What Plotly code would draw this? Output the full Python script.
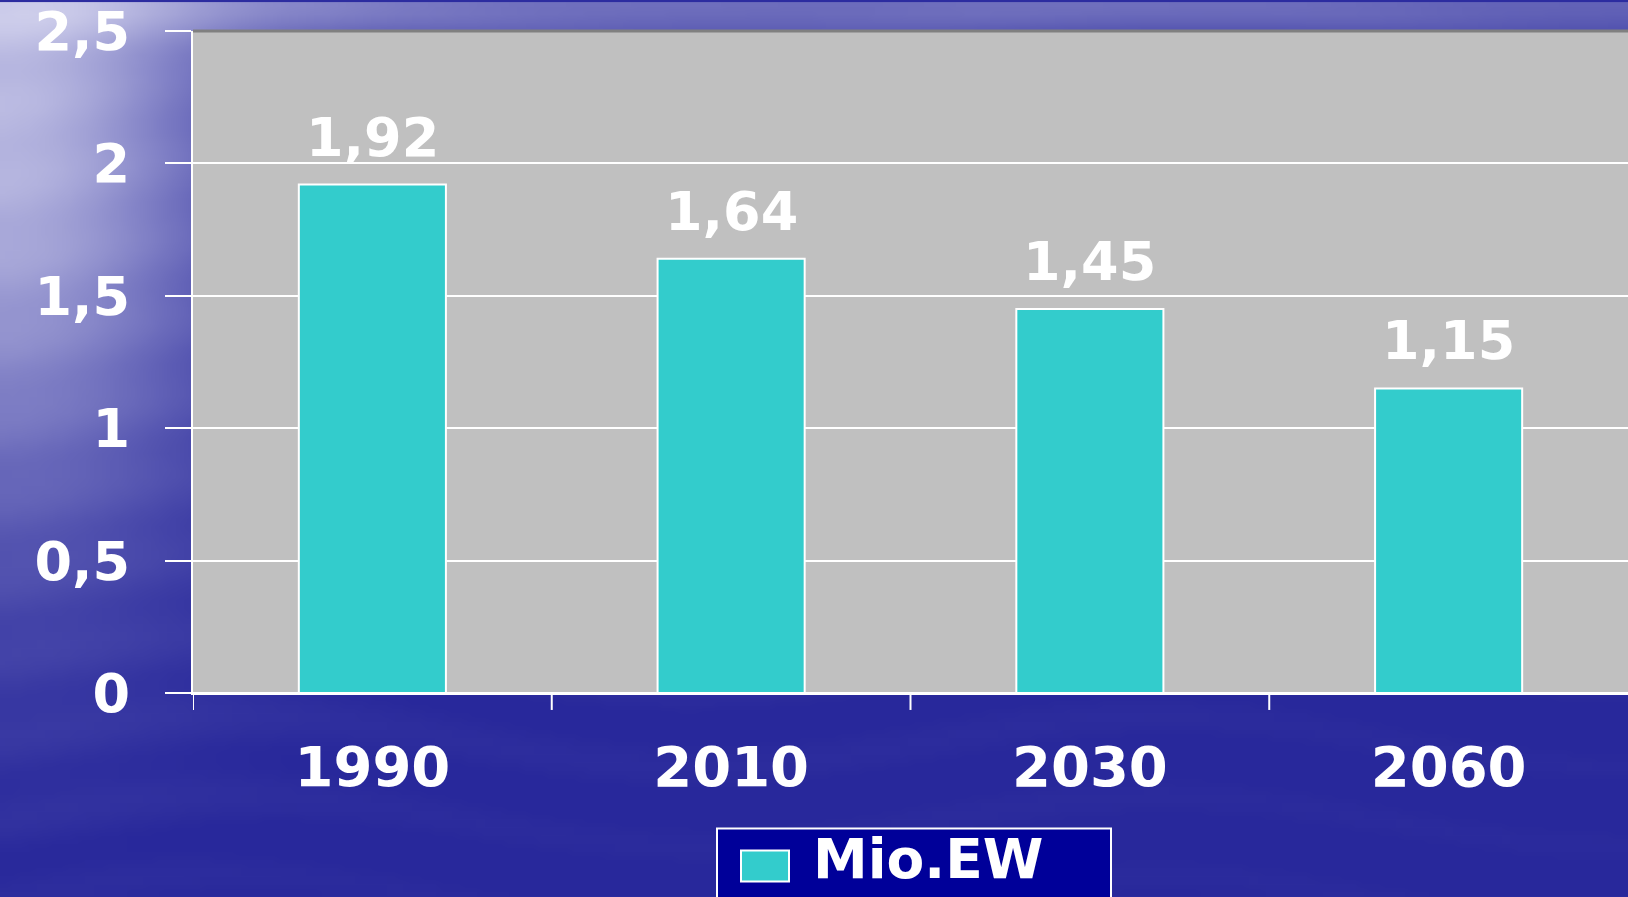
import base64, math, struct, zlib
import plotly.graph_objects as go

# ---- data ----
years = ["1990", "2010", "2030", "2060"]
values = [1.92, 1.64, 1.45, 1.15]
value_labels = ["1,92", "1,64", "1,45", "1,15"]
series_name = "Mio.EW"
y_tickvals = [0, 0.5, 1, 1.5, 2, 2.5]
y_ticktext = ["0", "0,5", "1", "1,5", "2", "2,5"]

W, H = 1628, 897
BAR = "#33CCCC"
FONT = "DejaVu Sans"


# ---- background gradient image (water-like slide background) ----
def make_bg(w=200, h=110):
    dark = (40, 40, 155)
    light = (215, 215, 240)
    rows = []
    for j in range(h):
        v = j / (h - 1)
        row = bytearray([0])
        for i in range(w):
            u = i / (w - 1)
            b = 0.72 * math.exp(-(u / 0.13) ** 2 - ((v - 0.12) / 0.45) ** 2)
            b += 0.35 * math.exp(-(v / 0.045) ** 2) * min(1.0, 0.4 + 3 * u)
            b += 0.12 * (1 - v) * (1 - u)
            b += 0.018 * math.sin(v * 70 + math.sin(u * 11) * 2)
            b = max(0.0, min(1.0, b))
            row += bytes(int(dark[k] + b * (light[k] - dark[k])) for k in range(3))
        rows.append(bytes(row))
    raw = b"".join(rows)

    def chunk(t, d):
        c = struct.pack(">I", len(d)) + t + d
        return c + struct.pack(">I", zlib.crc32(t + d) & 0xFFFFFFFF)

    png = b"\x89PNG\r\n\x1a\n"
    png += chunk(b"IHDR", struct.pack(">IIBBBBB", w, h, 8, 2, 0, 0, 0))
    png += chunk(b"IDAT", zlib.compress(raw, 9))
    png += chunk(b"IEND", b"")
    return "data:image/png;base64," + base64.b64encode(png).decode()


idx = list(range(len(years)))

fig = go.Figure()
fig.add_trace(go.Bar(
    x=idx, y=values, name=series_name, width=0.41,
    marker=dict(color=BAR, line=dict(color="white", width=2)),
    showlegend=False,
))

# data labels
for i, v, t in zip(idx, values, value_labels):
    fig.add_annotation(
        x=i, y=v, text=t, showarrow=False, yanchor="bottom", yshift=14,
        font=dict(family=FONT, size=54, color="white", weight="bold"),
    )

ML, MT, MB = 193, 29, 204

fig.update_layout(
    width=W, height=H,
    margin=dict(l=ML, r=0, t=MT, b=MB),
    paper_bgcolor="#2c2ca0",
    plot_bgcolor="rgba(0,0,0,0)",
    images=[dict(source=make_bg(), xref="paper", yref="paper",
                 x=-ML / (W - ML), y=1 + MT / (H - MT - MB),
                 sizex=W / (W - ML), sizey=H / (H - MT - MB),
                 xanchor="left", yanchor="top", sizing="stretch", layer="below")],
    xaxis=dict(
        range=[-0.5, len(years) - 0.5],
        tickvals=[i - 0.5 for i in idx] + [len(years) - 0.5] + idx,
        ticktext=[""] * (len(years) + 1) + years,
        ticks="", showline=True, linecolor="white", linewidth=2,
        showgrid=False, zeroline=False, tickangle=0,
        tickfont=dict(family=FONT, size=56, color="white", weight="bold"),
        ticklabelstandoff=24,
    ),
    yaxis=dict(
        range=[0, 2.5], tickvals=y_tickvals, ticktext=y_ticktext,
        ticks="outside", ticklen=26, tickwidth=2, tickcolor="white",
        showline=True, linecolor="white", linewidth=2,
        showgrid=True, gridcolor="white", gridwidth=2,
        zeroline=True, zerolinecolor="white", zerolinewidth=2,
        tickfont=dict(family=FONT, size=54, color="white", weight="bold"),
        ticklabelstandoff=24, ticklabeloverflow="allow",
    ),
)

# grey plot area background (drawn above the slide background image)
fig.add_shape(type="rect", xref="paper", yref="paper", x0=0, x1=1, y0=0, y1=1,
              fillcolor="#C0C0C0", line=dict(width=0), layer="below")
# category boundary tick marks below the x axis
for b in [i - 0.5 for i in idx]:
    fig.add_shape(type="line", xref="x", yref="paper", x0=b, x1=b, y0=0,
                  y1=-17 / (H - MT - MB), line=dict(color="white", width=2),
                  layer="above")
# top border of the plot area
fig.add_shape(type="line", xref="paper", yref="paper", x0=0, x1=1, y0=1, y1=1,
              line=dict(color="#808080", width=3), layer="above")

# manual legend box
def px(x):
    return (x - ML) / (W - ML)

def py(y):
    return (H - MB - y) / (H - MT - MB)

fig.add_shape(type="rect", xref="paper", yref="paper",
              x0=px(717), x1=px(1111), y0=py(829), y1=py(905),
              fillcolor="#000099", line=dict(color="white", width=2), layer="above")
fig.add_shape(type="rect", xref="paper", yref="paper",
              x0=px(741), x1=px(789), y0=py(851), y1=py(882),
              fillcolor=BAR, line=dict(color="white", width=2), layer="above")
fig.add_annotation(xref="paper", yref="paper", x=px(811), y=py(860),
                   xanchor="left", yanchor="middle", showarrow=False,
                   text=series_name,
                   font=dict(family=FONT, size=55, color="white", weight="bold"))

fig.write_html("out.html")
